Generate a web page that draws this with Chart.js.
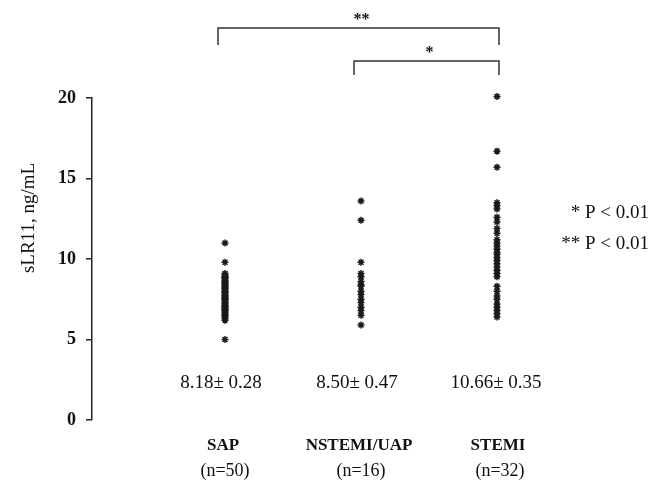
<!DOCTYPE html>
<html>
<head>
  <title>sLR11 by group</title>
  <script src="https://cdn.jsdelivr.net/npm/chart.js"></script>
  <style>
    body { margin: 0; background: #fff; }
  </style>
</head>
<body>
  <canvas id="scatterChart" width="651" height="489"></canvas>

  <script>
    // groups along the x axis
    const categories = ['SAP', 'NSTEMI/UAP', 'STEMI'];
    const groupSizes = ['(n=50)', '(n=16)', '(n=32)'];
    const meanLabels = ['8.18\u00b1 0.28', '8.50\u00b1 0.47', '10.66\u00b1 0.35'];

    // individual sLR11 values (ng/mL)
    const sapValues = [
      11.0, 9.8, 5.0,
      9.1, 9.0, 8.9, 8.8, 8.8, 8.7, 8.6, 8.5, 8.5, 8.4,
      8.3, 8.2, 8.2, 8.1, 8.0, 7.9, 7.9, 7.8, 7.7, 7.6,
      7.6, 7.5, 7.4, 7.3, 7.3, 7.2, 7.1, 7.0, 7.0, 6.9,
      6.8, 6.8, 6.7, 6.6, 6.5, 6.5, 6.4, 6.3, 6.2,
      8.6, 8.0, 7.5, 7.1, 6.9, 8.3, 7.7, 8.9
    ];
    const nstemiValues = [
      13.6, 12.4, 9.8, 9.1, 8.9, 8.6, 8.4, 8.3,
      8.0, 7.8, 7.5, 7.3, 7.0, 6.8, 6.5, 5.9
    ];
    const stemiValues = [
      20.1, 16.7, 15.7, 13.5, 13.3, 13.1, 12.6, 12.3,
      11.9, 11.6, 11.2, 11.0, 10.8, 10.6, 10.4, 10.3,
      10.1, 9.9, 9.7, 9.5, 9.3, 9.1, 8.9, 8.3,
      8.0, 7.7, 7.5, 7.2, 7.0, 6.8, 6.6, 6.4
    ];
    const yTicks = [0, 5, 10, 15, 20];

    // significance brackets: [from group, to group, label, row]
    const brackets = [
      [0, 2, '**', 0],
      [1, 2, '*', 1]
    ];
    const pNotes = ['* P < 0.01', '** P < 0.01'];

    const allGroups = [sapValues, nstemiValues, stemiValues];

    const serif = "'Liberation Serif', 'DejaVu Serif', serif";

    // draws the brackets, group labels, means and the p-value notes
    const annotations = {
      id: 'annotations',
      afterDraw(chart) {
        const ctx = chart.ctx;
        const xs = chart.scales.x;
        const px = i => xs.getPixelForValue(i + 1);

        ctx.save();
        ctx.fillStyle = '#111';
        ctx.strokeStyle = '#333';
        ctx.lineWidth = 1.5;

        // brackets
        brackets.forEach(([a, b, label, row]) => {
          const top = row === 0 ? 28 : 61;
          const drop = row === 0 ? 17 : 14;
          const x1 = px(a) - 7;
          const x2 = px(b) + 2;
          ctx.beginPath();
          ctx.moveTo(x1, top + drop);
          ctx.lineTo(x1, top);
          ctx.lineTo(x2, top);
          ctx.lineTo(x2, top + drop);
          ctx.stroke();
          ctx.font = 'bold 16px ' + serif;
          ctx.textAlign = 'center';
          ctx.textBaseline = 'middle';
          ctx.fillText(label, (x1 + x2) / 2 + 3, top - 8);
        });

        // mean +/- SE and group names
        ctx.textAlign = 'center';
        ctx.textBaseline = 'middle';
        categories.forEach((name, i) => {
          const x = px(i) + (i === 2 ? 3 : 0);
          ctx.font = '19px ' + serif;
          ctx.fillText(meanLabels[i], x - 4, 383);
          ctx.font = 'bold 17px ' + serif;
          ctx.fillText(name, x - 2, 446);
          ctx.font = '18px ' + serif;
          ctx.fillText(groupSizes[i], x, 471);
        });

        // p-value notes on the right
        ctx.textAlign = 'right';
        ctx.font = '19px ' + serif;
        ctx.fillText(pNotes[0], 649, 213);
        ctx.fillText(pNotes[1], 649, 244);

        // y axis title
        ctx.translate(29, 218);
        ctx.rotate(-Math.PI / 2);
        ctx.textAlign = 'center';
        ctx.font = '19px ' + serif;
        ctx.fillText('sLR11, ng/mL', 0, 0);
        ctx.restore();
      }
    };

    const ctx = document.getElementById('scatterChart').getContext('2d');

    new Chart(ctx, {
      type: 'scatter',
      data: {
        datasets: allGroups.map((vals, i) => ({
          label: categories[i],
          data: vals.map(v => ({ x: i + 1, y: v })),
          clip: false,
          pointStyle: 'star',
          pointRadius: 3.5,
          borderWidth: 1.5,
          borderColor: '#1a1a1a',
          backgroundColor: '#1a1a1a'
        }))
      },
      options: {
        responsive: false,
        animation: false,
        layout: { padding: { top: 98, bottom: 69, right: 15, left: 0 } },
        plugins: {
          legend: { display: false },
          tooltip: { enabled: false }
        },
        scales: {
          x: {
            type: 'linear',
            display: false,
            min: 0.022,
            max: 4.022
          },
          y: {
            min: 0,
            max: 20,
            afterBuildTicks: s => { s.ticks = yTicks.map(v => ({ value: v })); },
            afterFit: s => { s.width = 92; },
            border: { display: true, color: '#222', width: 1.5 },
            grid: {
              drawOnChartArea: false,
              drawTicks: true,
              tickLength: 6,
              color: '#222',
              lineWidth: 1.5
            },
            ticks: {
              padding: 10,
              color: '#111',
              font: { family: serif, size: 18, weight: 'bold' }
            }
          }
        }
      },
      plugins: [annotations]
    });
  </script>
</body>
</html>
